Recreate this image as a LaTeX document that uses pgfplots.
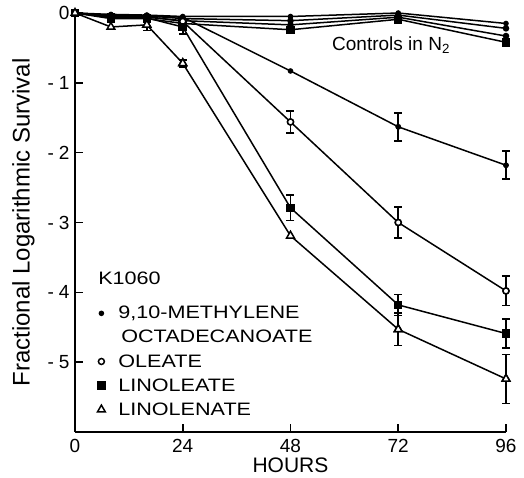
\documentclass[border=0pt]{standalone}
\usepackage{fontspec}
\setmainfont{Liberation Sans}
\newfontfamily\widefont[FakeStretch=1.2]{Liberation Sans}
\usepackage{pgfplots}
\pgfplotsset{compat=1.18}

\begin{document}
\begin{tikzpicture}
\useasboundingbox (-75pt,-46pt) rectangle (449pt,432pt);
\begin{axis}[
  at={(0pt,0pt)}, anchor=south west,
  width=431pt, height=419pt, scale only axis,
  xmin=0, xmax=96, ymin=-6, ymax=0,
  clip=false,
  axis x line*=bottom, axis y line*=left,
  axis line style={line width=1.8pt,-},
  xtick={0,24,48,72,96},
  ytick={-5,-4,-3,-2,-1,0},
  yticklabels={-\hspace{5pt}5,-\hspace{5pt}4,-\hspace{5pt}3,-\hspace{5pt}2,-\hspace{5pt}1,0},
  xticklabels={0,24,48,72,96},
  tick align=inside, major tick length=8pt,
  tick style={line width=1.6pt, black},
  ticklabel style={font=\fontsize{19}{19}\selectfont},
  xticklabel style={yshift=-4pt},
  yticklabel style={xshift=-2pt},
  xlabel={HOURS},
  ylabel={Fractional Logarithmic Survival},
  xlabel style={font=\fontsize{21}{21}\selectfont, yshift=2pt},
  ylabel style={font=\fontsize{24}{24}\selectfont, yshift=6pt},
  every axis plot/.append style={line width=1.5pt, black},
  legend image code/.code={\draw[#1] plot coordinates {(0.1cm,0cm)};},
  legend style={at={(axis cs:4.3,-4.14)}, anchor=north west, draw=none, fill=none,
    font=\widefont\fontsize{18}{18}\selectfont, row sep=6pt, column sep=11pt,
    legend cell align=left, nodes={inner sep=2pt}},
]

% error bars first, so that the marks sit on top of them
\pgfplotsset{ebar/.style={forget plot, only marks,
  error bars/.cd, y dir=both, y explicit,
  error bar style={line width=1.6pt},
  error mark options={rotate=90, mark size=4pt, line width=1.6pt}}}
\addplot[mark=*, mark size=2pt, ebar] coordinates {(72,-1.63) +- (0,0.2) (96,-2.18) +- (0,0.2)};
\addplot[mark=*, mark size=3pt, mark options={fill=white}, ebar] coordinates {(48,-1.56) +- (0,0.16) (72,-3.0) +- (0,0.22) (96,-3.98) +- (0,0.21)};
\addplot[mark=square*, mark size=3.5pt, ebar] coordinates {(24,-0.2) +- (0,0.1) (48,-2.79) +- (0,0.18) (72,-4.18) +- (0,0.15) (96,-4.59) +- (0,0.21)};
\addplot[mark=triangle*, mark size=4.5pt, mark options={fill=white}, ebar] coordinates {(16,-0.17) +- (0,0.08) (24,-0.72) +- (0,0.05) (72,-4.53) +- (0,0.23) (96,-5.24) +- (0,0.35)};

% controls in N2
\addplot[forget plot, mark=*, mark size=2pt] coordinates {(0,0) (8,-0.02) (16,-0.03) (24,-0.05) (48,-0.05) (72,0.0) (96,-0.15)};
\addplot[forget plot, mark=*, mark size=2.5pt] coordinates {(0,0) (8,-0.04) (16,-0.04) (24,-0.08) (48,-0.11) (72,-0.03) (96,-0.22)};
\addplot[forget plot, mark=*, mark size=2.5pt] coordinates {(0,0) (8,-0.06) (16,-0.06) (24,-0.11) (48,-0.17) (72,-0.06) (96,-0.33)};
\addplot[forget plot, mark=square*, mark size=3.5pt] coordinates {(0,0) (8,-0.08) (16,-0.08) (24,-0.15) (48,-0.24) (72,-0.09) (96,-0.42)};

% treatment series
\addplot[mark=*, mark size=2pt] coordinates {(0,0) (8,-0.03) (16,-0.04) (24,-0.06) (48,-0.83) (72,-1.63) (96,-2.18)};
\addlegendentry{9,10-METHYLENE}
\addlegendimage{empty legend}
\addlegendentry{\hspace*{3pt}OCTADECANOATE}
\addplot[mark=*, mark size=3pt, mark options={fill=white}] coordinates {(0,0) (8,-0.05) (16,-0.05) (24,-0.12) (48,-1.56) (72,-3.0) (96,-3.98)};
\addlegendentry{OLEATE}
\addplot[mark=square*, mark size=3.5pt] coordinates {(0,0) (8,-0.06) (16,-0.07) (24,-0.2) (48,-2.79) (72,-4.18) (96,-4.59)};
\addlegendentry{LINOLEATE}
\addplot[mark=triangle*, mark size=4.5pt, mark options={fill=white}] coordinates {(0,0) (8,-0.2) (16,-0.17) (24,-0.72) (48,-3.19) (72,-4.53) (96,-5.24)};
\addlegendentry{LINOLENATE}

\node[anchor=west, font=\fontsize{19}{19}\selectfont] at (axis cs:56.5,-0.46) {Controls in N\textsubscript{2}};
\node[anchor=west, font=\widefont\fontsize{18}{18}\selectfont] at (axis cs:4.4,-3.80) {K1060};

\end{axis}
\end{tikzpicture}
\end{document}
